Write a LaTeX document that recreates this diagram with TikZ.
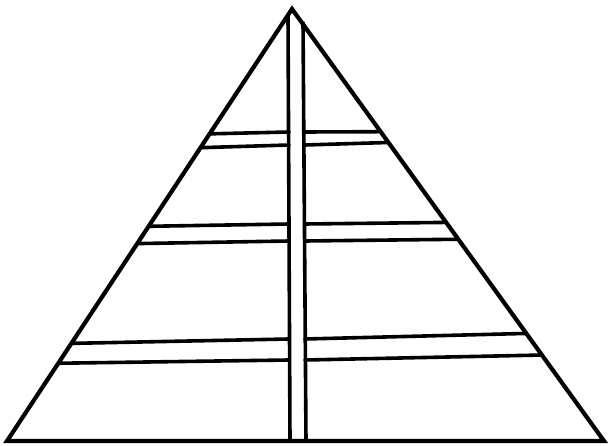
\documentclass[tikz,border=0pt]{standalone}
\usepackage{tikz}
\usetikzlibrary{calc}

\begin{document}
\begin{tikzpicture}[
  x=1pt,y=-1pt,
  edge/.style={line width=4.2pt,line join=miter,line cap=round},
  post/.style={line width=3.6pt},
  rung/.style={line width=3.6pt,line cap=round}
]
\useasboundingbox (0,0) rectangle (608,446);

\coordinate (apex) at (292,9);
\coordinate (bl)   at (7,441);
\coordinate (br)   at (604,441);

% outer triangle
\draw[edge] (bl) -- (apex) -- (br) -- cycle;

% centre post
\coordinate (pl top) at (288,15);
\coordinate (pr top) at (303,22);
\coordinate (pl bot) at (290,441);
\coordinate (pr bot) at (306,441);
\draw[post] (pl top) -- (pl bot);
\draw[post] (pr top) -- (pr bot);

% rungs: left fraction, left-mid y, right-mid y, right fraction
\foreach \fl/\ym/\fr [count=\i] in {
    0.289/132/0.284, 0.321/145/0.309,
    0.503/224/0.494, 0.543/241/0.533,
    0.774/339/0.751, 0.820/360/0.801}{
  \coordinate (rl\i) at ($(apex)!\fl!(bl)$);
  \coordinate (rr\i) at ($(apex)!\fr!(br)$);
  \draw[rung] (rl\i) -- (289,\ym);
  \draw[rung] (305,\ym) -- (rr\i);
}
\end{tikzpicture}
\end{document}
